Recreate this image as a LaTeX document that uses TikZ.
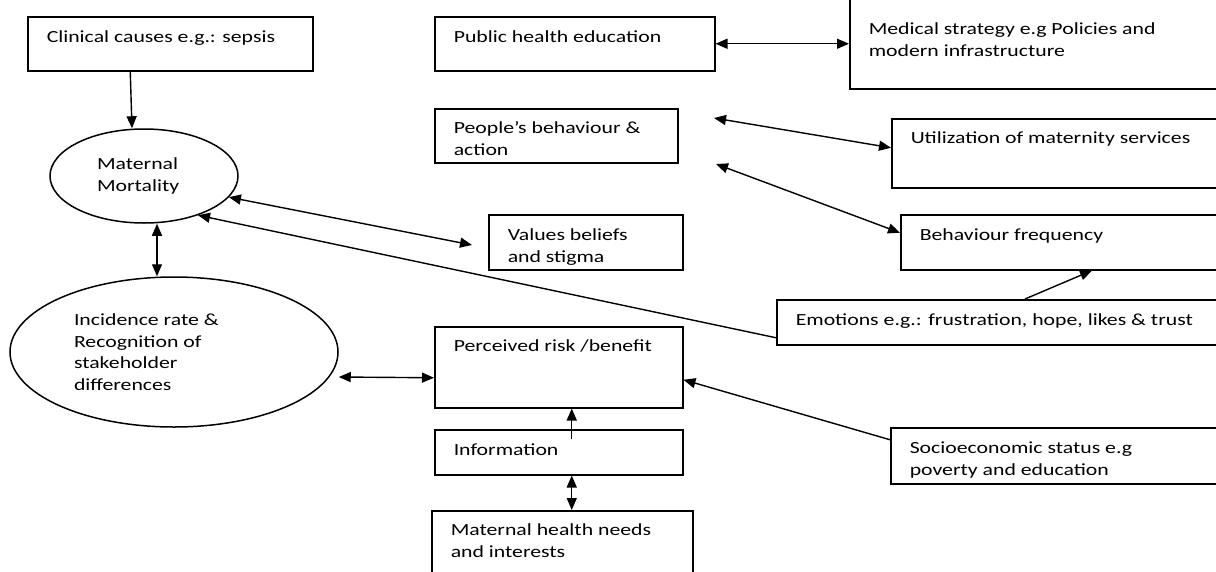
\documentclass[tikz,border=0pt]{standalone}
\usepackage{fontspec}
\setmainfont{Carlito}[FakeStretch=1.28]
\usetikzlibrary{arrows.meta,shapes.geometric}
\newcommand\bt[4]{\parbox[t][#2][t]{#1}{\raggedright\leftskip=19pt\relax\parindent=0pt\rule{0pt}{#3}#4}}
\tikzset{
  bx/.style={draw, rectangle, line width=1.5pt, inner sep=0pt, anchor=north west},
  ell/.style={draw, ellipse, line width=1.5pt, inner sep=0pt},
  conn/.style={-{Triangle[length=12pt,width=10pt]}, line width=1.4pt},
  biconn/.style={{Triangle[length=12pt,width=10pt]}-{Triangle[length=12pt,width=10pt]}, line width=1.4pt}
}
\begin{document}
\begin{tikzpicture}[x=1pt,y=-1pt,font=\fontsize{17}{21.5}\selectfont]
\path[use as bounding box] (0,0) rectangle (1216,571);
\clip (0,0) rectangle (1216,571);
% boxes
\node[bx] (clin) at (27,16) {\bt{285pt}{54pt}{26pt}{Clinical causes e.g.: sepsis}};
\node[bx] (pub) at (434,16) {\bt{280pt}{54pt}{26pt}{Public health education}};
\node[bx] (med) at (849,-2) {\bt{400pt}{90pt}{36pt}{Medical strategy e.g Policies and\\modern infrastructure}};
\node[bx] (ppl) at (434,108) {\bt{243pt}{54pt}{25pt}{People’s behaviour \&\\action}};
\node[bx] (val) at (488,214) {\bt{194pt}{55pt}{26pt}{Values beliefs\\and stigma}};
\node[bx] (util) at (891,118) {\bt{360pt}{69pt}{25pt}{Utilization of maternity services}};
\node[bx] (bfreq) at (900,214) {\bt{360pt}{55pt}{26pt}{Behaviour frequency}};
\node[bx] (emo) at (776,299) {\bt{470pt}{45pt}{26pt}{Emotions e.g.: frustration, hope, likes \& trust}};
\node[bx] (soc) at (890,427) {\bt{360pt}{56pt}{26pt}{Socioeconomic status e.g\\poverty and education}};
\node[bx] (perc) at (434,326) {\bt{248pt}{81pt}{25pt}{Perceived risk /benefit}};
\node[bx] (info) at (434,429) {\bt{248pt}{45pt}{26pt}{Information}};
\node[bx] (mhn) at (431,510) {\bt{261pt}{80pt}{25pt}{Maternal health needs\\and interests}};
% ellipses
\node[ell, minimum width=188pt, minimum height=94pt] (mm) at (144,176) {\parbox{94pt}{\raggedright Maternal\\Mortality}};
\node[ell, minimum width=328pt, minimum height=150pt] (inc) at (174,352) {\parbox{200pt}{\raggedright Incidence rate \&\\Recognition of\\stakeholder\\differences}};
% free ends
\coordinate (pa) at (714,118);
\coordinate (pb) at (716,164);
\coordinate (vc) at (472,245);
% connectors
\draw[conn] ([xshift=-40pt]clin.south) -- ([xshift=-12pt]mm.north);
\draw[biconn] ([xshift=13pt]mm.south) -- ([xshift=-17pt]inc.north);
\draw[biconn] (pub.east) -- (med.west |- pub.east);
\draw[biconn] (pa) -- ([yshift=5.5pt]util.west);
\draw[biconn] (pb) -- ([yshift=9.5pt]bfreq.west);
\draw[biconn] (mm.-14) -- (vc);
\draw[conn] ([yshift=-15.5pt]emo.west) -- (mm.-36.5);
\draw[conn] ([xshift=249pt]emo.north west) -- ([xshift=192pt]bfreq.south west);
\draw[biconn] ([yshift=-25pt]inc.east) -- ([yshift=-10.5pt]perc.west);
\draw[conn] ([xshift=13pt,yshift=-10pt]info.north) -- ([xshift=13pt]perc.south);
\draw[biconn] ([xshift=13pt]info.south) -- ([xshift=9.5pt]mhn.north);
\draw[conn] ([yshift=16pt]soc.west) -- ([yshift=-12.5pt]perc.east);
\end{tikzpicture}
\end{document}
